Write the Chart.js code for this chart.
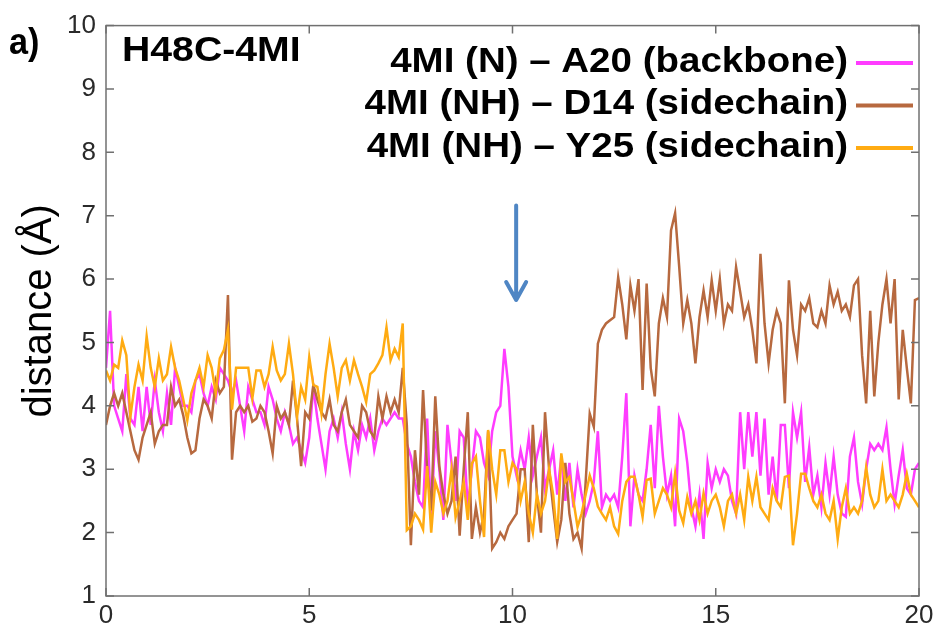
<!DOCTYPE html>
<html>
<head>
<meta charset="utf-8">
<script src="https://cdn.jsdelivr.net/npm/chart.js@4.4.1/dist/chart.umd.min.js"></script>
<style>
  html, body { margin: 0; padding: 0; background: #fff; }
  #wrap { width: 938px; height: 630px; position: relative; }
</style>
</head>
<body>
<div id="wrap"><canvas id="distChart"></canvas></div>
<script>
// sampling interval of the trajectory (ns)
const timeStep = 0.1;

// 4MI (N) – A20 (backbone)
const a20Backbone = [
  4.6, 5.5, 4.0, 3.8, 3.6, 4.5, 3.8, 3.7, 4.3, 3.6,
  4.3, 3.7, 4.4, 3.9, 3.6, 4.2, 3.7, 4.6, 4.3, 4.0,
  4.0, 3.9, 4.4, 4.5, 4.2, 4.0, 4.3, 4.1, 4.6, 4.5,
  4.4, 4.2, 4.4, 4.0, 3.6, 4.3, 4.1, 3.9, 3.9, 3.7,
  4.3, 4.1, 3.8, 3.6, 3.9, 3.7, 3.4, 3.5, 3.3, 3.1,
  3.5, 4.3, 3.8, 3.4, 3.0, 3.6, 3.8, 3.5, 3.9, 3.4,
  3.0, 3.6, 3.3, 3.7, 3.5, 3.8, 3.3, 3.6, 3.8, 3.7,
  3.8, 3.9, 3.8, 3.8, 3.4, 3.2, 2.8, 2.5, 2.4, 3.8,
  2.2, 3.6, 3.0, 2.2, 3.7, 3.1, 2.5, 3.6, 3.5, 2.4,
  3.0, 3.6, 3.5, 3.1, 2.9, 3.6, 3.9, 4.0, 4.9, 4.3,
  3.2, 2.9, 3.3, 3.0, 3.5, 2.9, 3.2, 3.5, 2.7, 3.0,
  3.3, 2.6, 3.2, 2.5, 3.1, 2.4, 3.0, 2.6, 2.3, 2.5,
  2.8, 3.6, 2.4, 2.6, 2.5, 2.6, 2.4, 3.2, 4.2, 2.1,
  2.9, 2.6, 2.5, 3.0, 3.7, 2.7, 4.0, 3.2, 2.6, 2.9,
  2.1, 3.8, 3.6, 3.1, 2.4, 2.1, 2.6, 1.9, 3.1, 2.7,
  3.0, 2.8, 3.0, 2.9, 2.5, 2.3, 3.9, 3.0, 3.9, 3.2,
  3.9, 2.9, 3.8, 2.6, 3.2, 2.5, 3.7, 3.7, 2.7, 3.9,
  3.5, 3.9, 2.8, 3.35, 2.6, 2.9, 2.4, 3.1, 2.6, 3.2,
  2.6, 2.3, 2.25, 3.2, 3.5, 2.8, 2.45, 3.0, 3.4, 3.3,
  3.4, 3.3, 3.66, 3.0, 2.45, 2.9, 3.3, 2.7, 2.6, 3.0, 3.1
];

// 4MI (NH) – D14 (sidechain)
const d14Sidechain = [
  3.7, 4.0, 4.2, 4.0, 4.2, 3.9, 3.6, 3.3, 3.15, 3.5,
  3.7, 3.9, 3.4, 3.6, 3.7, 3.7, 4.3, 4.0, 4.1, 3.85,
  3.5, 3.25, 3.3, 3.8, 4.1, 4.0, 3.8, 4.4, 4.2, 4.3,
  5.75, 3.15, 3.9, 4.0, 3.9, 4.0, 3.75, 3.8, 4.0, 3.9,
  3.6, 3.25, 4.0, 3.8, 3.9, 3.7, 4.4, 3.8, 3.05, 3.9,
  3.8, 4.33, 4.1, 3.9, 3.8, 4.1, 3.7, 3.6, 3.9, 4.1,
  3.7, 3.6, 3.5, 4.0, 3.9, 3.6, 3.5, 4.15, 3.8, 4.15,
  3.9, 4.1, 3.9, 4.6, 3.7, 1.8, 3.3, 2.6, 4.25, 3.0,
  2.35, 4.15, 3.05, 2.6, 2.3, 2.5, 3.2, 1.95, 3.0, 3.9,
  1.9, 2.4, 2.0, 2.3, 3.6, 1.75, 1.85, 2.0, 1.9, 2.1,
  2.2, 2.3, 3.0, 3.0, 1.85, 3.7, 2.6, 2.0, 3.9, 3.0,
  2.4, 1.85, 2.2, 3.1, 2.3, 1.9, 2.0, 1.75, 2.8, 3.88,
  3.67, 4.98, 5.2, 5.3, 5.35, 5.4, 6.03, 5.6, 5.05, 5.9,
  5.5, 6.0, 4.25, 5.93, 4.6, 4.15, 5.3, 5.7, 5.4, 6.77,
  7.04, 6.2, 5.3, 5.67, 5.3, 4.67, 5.4, 5.82, 5.4, 5.98,
  5.5, 6.0, 5.3, 5.6, 5.5, 6.19, 5.8, 5.4, 5.6, 5.2,
  4.67, 6.4, 5.3, 4.67, 5.2, 5.5, 5.3, 4.04, 5.98, 5.2,
  4.8, 5.6, 5.5, 5.7, 5.3, 5.24, 5.5, 5.3, 5.9, 5.6,
  5.8, 5.5, 5.6, 5.4, 5.9, 6.0, 4.8, 4.04, 5.5, 4.15,
  5.0, 5.6, 6.0, 5.3, 6.0, 4.1, 5.2, 4.6, 4.04, 5.67, 5.7
];

// 4MI (NH) – Y25 (sidechain)
const y25Sidechain = [
  4.56, 4.4, 4.65, 4.6, 5.03, 4.8, 3.83, 4.3, 4.65, 4.4,
  5.1, 4.6, 4.3, 4.75, 4.4, 4.5, 4.93, 4.6, 4.4, 4.1,
  3.77, 4.2, 4.4, 4.6, 4.3, 4.8, 4.6, 4.2, 4.75, 4.88,
  5.2, 3.94, 4.6, 4.6, 4.6, 4.6, 4.12, 4.56, 4.56, 4.3,
  4.5, 4.93, 4.56, 4.4, 4.5, 4.98, 4.5, 3.83, 4.3, 4.1,
  4.77, 4.33, 4.3, 3.88, 4.5, 4.98, 4.6, 4.15, 4.6, 4.72,
  4.4, 4.72, 4.5, 4.3, 4.06, 4.5, 4.56, 4.67, 4.8, 5.24,
  4.72, 4.9, 4.77, 5.3, 2.04, 2.1, 2.3, 2.2, 2.05, 3.05,
  2.0, 2.8, 2.6, 2.3, 2.5, 3.0, 2.24, 2.5, 2.8, 2.2,
  3.09, 3.2, 2.5, 1.93, 3.62, 3.0, 2.6, 3.3, 3.3, 2.8,
  3.1, 3.0, 2.5, 2.8, 2.3, 2.0, 2.6, 2.3, 2.5, 3.0,
  2.6, 1.9, 3.25, 2.8, 2.88, 2.5, 2.09, 2.3, 2.6, 2.9,
  2.7, 2.41, 2.3, 2.2, 2.4, 2.1, 1.98, 2.5, 2.8, 2.88,
  2.88, 2.6, 2.25, 2.83, 2.85, 2.3, 2.5, 2.7, 2.6, 2.4,
  2.93, 2.35, 2.15, 2.56, 2.3, 2.5, 2.2, 2.62, 2.3, 2.5,
  2.6, 2.4, 2.1, 2.5, 2.6, 2.3, 2.6, 2.2, 2.88, 2.5,
  2.88, 2.4, 2.3, 2.2, 2.7, 2.5, 2.4, 2.88, 2.9, 1.8,
  2.3, 2.93, 2.93, 2.7, 2.5, 2.4, 2.6, 2.3, 2.2, 2.5,
  1.9, 2.4, 2.7, 2.3, 2.4, 2.3, 2.5, 3.03, 2.6, 2.4,
  2.5, 3.0, 2.5, 2.6, 2.5, 2.4, 2.6, 2.93, 2.6, 2.5, 2.4
];

const seriesLabels = ['4MI (N) \u2013 A20 (backbone)', '4MI (NH) \u2013 D14 (sidechain)', '4MI (NH) \u2013 Y25 (sidechain)'];
const seriesColors = ['#ff3cff', '#b7693f', '#ffab12'];
const xTicks = [0, 5, 10, 15, 20];
const yTicks = [1, 2, 3, 4, 5, 6, 7, 8, 9, 10];

const FONT = "'Liberation Sans', Arial, Helvetica, sans-serif";

function toPoints(vals) {
  return vals.map((v, i) => ({ x: +(i * timeStep).toFixed(2), y: v }));
}

// the original lettering is a bit wider than Arial, so stretch it sideways
function wideText(ctx, text, x, y, stretch, align) {
  const w = ctx.measureText(text).width * stretch;
  const x0 = align === 'right' ? x - w : x;
  ctx.save();
  ctx.textAlign = 'left';
  ctx.translate(x0, y);
  ctx.scale(stretch, 1);
  ctx.fillText(text, 0, 0);
  ctx.restore();
}

// frame with inward ticks, legend, panel labels and the arrow
const decorations = {
  id: 'decorations',
  afterDatasetsDraw(chart) {
    const ctx = chart.ctx;
    const { left, right, top, bottom } = chart.chartArea;
    const xs = chart.scales.x, ys = chart.scales.y;
    ctx.save();

    // frame
    ctx.strokeStyle = '#707070';
    ctx.lineWidth = 1.5;
    ctx.strokeRect(left, top, right - left, bottom - top);
    ctx.beginPath();
    xTicks.forEach(v => {
      const px = xs.getPixelForValue(v);
      ctx.moveTo(px, bottom); ctx.lineTo(px, bottom - 8);
      ctx.moveTo(px, top); ctx.lineTo(px, top + 8);
    });
    yTicks.forEach(v => {
      const py = ys.getPixelForValue(v);
      ctx.moveTo(left, py); ctx.lineTo(left + 8, py);
      ctx.moveTo(right, py); ctx.lineTo(right - 8, py);
    });
    ctx.stroke();

    // arrow at ~10 ns
    const ax = xs.getPixelForValue(10.09);
    const aTop = ys.getPixelForValue(7.16);
    const aTip = ys.getPixelForValue(5.67);
    ctx.strokeStyle = '#4f86c4';
    ctx.lineWidth = 4;
    ctx.lineCap = 'round';
    ctx.lineJoin = 'round';
    ctx.beginPath();
    ctx.moveTo(ax, aTop); ctx.lineTo(ax, aTip);
    ctx.moveTo(ax - 10, aTip - 18); ctx.lineTo(ax, aTip); ctx.lineTo(ax + 10, aTip - 18);
    ctx.stroke();

    // panel label and system name
    ctx.fillStyle = '#000';
    ctx.textBaseline = 'middle';
    ctx.font = 'bold 36px ' + FONT;
    wideText(ctx, 'a)', 9, 44, 0.95, 'left');
    ctx.font = 'bold 35px ' + FONT;
    wideText(ctx, 'H48C-4MI', 122, 51, 1.12, 'left');

    // legend: text right aligned, sample line at right
    chart.data.datasets.forEach((ds, i) => {
      const y = 62 + i * 42.5;
      ctx.fillStyle = '#000';
      wideText(ctx, ds.label, 848, y, 1.1, 'right');
      ctx.strokeStyle = ds.borderColor;
      ctx.lineWidth = 4;
      ctx.lineCap = 'butt';
      ctx.beginPath();
      ctx.moveTo(856, y + 1); ctx.lineTo(913, y + 1);
      ctx.stroke();
    });
    ctx.restore();
  }
};

const datasets = [a20Backbone, d14Sidechain, y25Sidechain].map((vals, i) => ({
  label: seriesLabels[i],
  data: toPoints(vals),
  borderColor: seriesColors[i],
  borderWidth: 2.5,
  pointRadius: 0,
  tension: 0,
  fill: false,
  order: 3 - i
}));

new Chart(document.getElementById('distChart'), {
  type: 'line',
  data: { datasets },
  options: {
    responsive: true,
    maintainAspectRatio: false,
    animation: false,
    layout: { padding: { top: 25, right: 19, left: 0, bottom: 0 } },
    plugins: { legend: { display: false }, tooltip: { enabled: false } },
    scales: {
      x: {
        type: 'linear',
        min: 0, max: 20,
        afterBuildTicks: s => { s.ticks = xTicks.map(v => ({ value: v })); },
        afterFit: s => { s.height = 34; },
        grid: { display: false, drawTicks: false },
        border: { display: false },
        ticks: { color: '#2a2a2a', padding: 4, maxRotation: 0, font: { family: FONT, size: 26 } }
      },
      y: {
        min: 1, max: 10,
        afterBuildTicks: s => { s.ticks = yTicks.map(v => ({ value: v })); },
        afterFit: s => { s.width = 106; },
        grid: { display: false, drawTicks: false },
        border: { display: false },
        ticks: { color: '#2a2a2a', padding: 10, font: { family: FONT, size: 26 } },
        title: { display: true, text: 'distance (\u00c5)', color: '#000', padding: { top: 16, bottom: 0 }, font: { family: FONT, size: 40 } }
      }
    }
  },
  plugins: [decorations]
});
</script>
</body>
</html>
